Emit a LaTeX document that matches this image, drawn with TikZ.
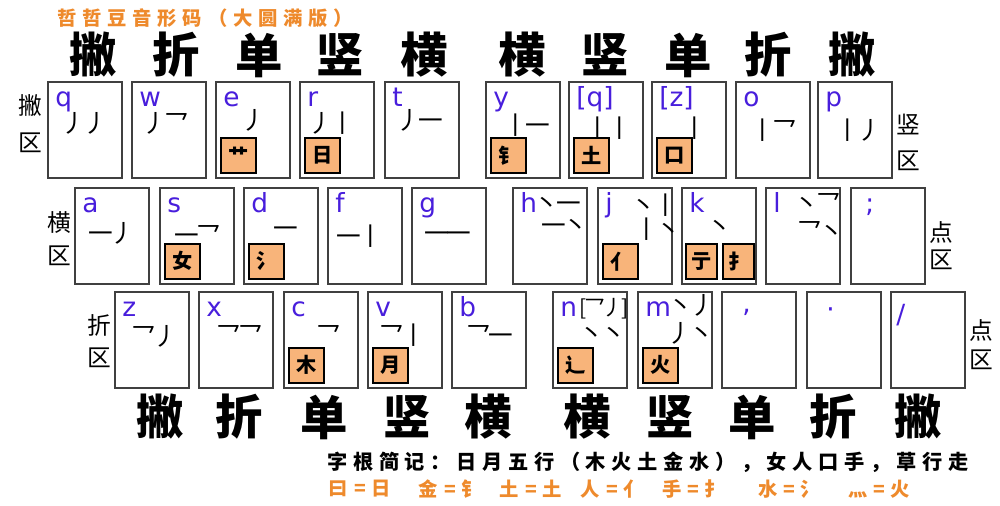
\documentclass[tikz,border=0pt]{standalone}
\usepackage{fontspec}
\setmainfont{DejaVu Sans}
\newfontfamily\cjk{Noto Sans CJK SC}
\usepackage{xcolor}
\usepackage{tikz}
\usetikzlibrary{positioning}
\usetikzlibrary{calc}

\definecolor{keyblue}{RGB}{72,30,220}
\definecolor{titleorange}{RGB}{238,138,44}
\definecolor{radfill}{RGB}{248,180,122}

\begin{document}
\begin{tikzpicture}[x=0.02cm, y=-0.02cm,
		key/.style={draw=black!75, line width=0.7pt, minimum width=1.48cm, minimum height=1.92cm, inner sep=0pt, outer sep=0pt, anchor=north west},
		letter/.style={text=keyblue, font=\fontsize{15}{15}\selectfont, anchor=base west, inner sep=0pt},
		stroke/.style={font=\cjk\fontsize{14}{14}\selectfont\addfontfeatures{LetterSpace=-12}, inner sep=0pt},
		rad/.style={draw, line width=1.4pt, fill=radfill, minimum size=0.7cm, inner sep=0pt, anchor=south west, font=\cjk\bfseries\fontsize{11.5}{11.5}\selectfont},
		big/.style={font=\cjk\bfseries\fontsize{27}{27}\selectfont, inner sep=0pt},
		zone/.style={font=\cjk\fontsize{13.5}{13.5}\selectfont, inner sep=0pt},
		note/.style={font=\cjk\bfseries\fontsize{11}{11}\selectfont\addfontfeatures{LetterSpace=30}, inner sep=0pt}]
		\useasboundingbox (0,0) rectangle (1000,505);

		% Title
		\node[note, text=titleorange, anchor=west] (title) at (57,18) {哲哲豆音形码（大圆满版）};

		% Three rows of keys
		\foreach \n/\x in {q/48, w/132, e/216, r/300, t/385, y/486, qq/569, zz/652, o/736, p/818}
			\node[key] (\n) at (\x,82) {};
		\foreach \n/\x in {a/75, s/160, d/244, f/328, g/412, h/513, j/598, k/682, l/766, semi/851}
			\node[key] (\n) at (\x,188) {};
		\foreach \n/\x in {z/115, x/199, c/284, v/368, b/452, n/553, m/638, comma/722, dot/807, slash/891}
			\node[key] (\n) at (\x,292) {};

		% Key letters
		\foreach \n/\l in {q/q, w/w, e/e, r/r, t/t, y/y, qq/{[q]}, zz/{[z]}, o/o, p/p, a/a, s/s, d/d, f/f, g/g, h/h, j/j, k/k, l/l, z/z, x/x, c/c, v/v, b/b, n/n, m/m}
			\node[letter] at ($(\n.north west)+(7,24)$) {\l};
		\node[letter] at ($(semi.north west)+(14,24)$) {;};
		\node[letter] at ($(comma.north west)+(20,20)$) {,};
		\node[letter] at ($(dot.north west)+(19,26)$) {·};
		\node[letter] at ($(slash.north west)+(5,31)$) {/};

		% Strokes
		\foreach \n/\dx/\dy/\s in {q/37/41/丿丿, w/34/41/丿乛, e/38/38/丿, r/32/41/丿丨, t/35/38/丿一,
				y/41/43/丨一, qq/40/46/丨丨, zz/43/46/丨, o/38/48/丨乛, p/41/48/丨丿,
				a/37/45/一丿, s/38/47/一乛, d/42/44/一, f/32/48/一丨, g/36/49/一一,
				h/45/17/丶一, h/52/39/一丶, j/57/17/丶丨, j/60/41/丨丶, k/38/40/丶, l/52/15/丶乛, l/55/43/乛丶,
				z/40/44/乛丿, x/41/43/乛乛, c/45/43/乛, v/35/43/乛丨, b/38/43/乛一,
				n/50/43/丶丶, m/54/13/丶丿, m/53/41/丿丶}
			\node[stroke] at ($(\n.north west)+(\dx,\dy)$) {\s};
		\node[stroke, font=\cjk\fontsize{12}{12}\selectfont\addfontfeatures{LetterSpace=-12}] at ($(n.north west)+(51,17)$) {[乛丿]};

		% Radical boxes
		\foreach \n/\r in {e/艹, r/日, y/钅, qq/土, zz/口, s/女, d/氵, j/亻, c/木, v/月, n/辶, m/火}
			\node[rad] at ($(\n.south west)+(4,-4)$) {\r};
		\node[rad, minimum width=0.62cm] at ($(k.south west)+(3,-4)$) {亍};
		\node[rad, minimum width=0.62cm] at ($(k.south west)+(40,-4)$) {扌};

		% Zone labels
		\foreach \c/\x/\y in {撇/30/105, 区/30/143, 竖/908/124, 区/908/161, 横/59/223, 区/59/256,
				点/941/232, 区/941/260, 折/99/325, 区/99/358, 点/981/330, 区/981/360}
			\node[zone] at (\x,\y) {\c};

		% Big headers
		\foreach \h/\x in {撇/93, 折/176, 单/259, 竖/340, 横/424, 横/522, 竖/605, 单/688, 折/768, 撇/852}
			\node[big] at (\x,55) {\h};
		\foreach \h/\x in {撇/160, 折/239, 单/324, 竖/407, 横/488, 横/587, 竖/670, 单/752, 折/833, 撇/918}
			\node[big] at (\x,417) {\h};

		% Memo lines
		\node[note, anchor=west, font=\cjk\bfseries\fontsize{11.5}{11.5}\selectfont\addfontfeatures{LetterSpace=28}] (memo) at (327,462) {字根简记：日月五行（木火土金水），女人口手，草行走};
		\foreach \t/\x in {曰=日/360, 金=钅/450, 土=土/531, 人=亻/612, 手=扌/693, 水=氵/789, 灬=火/879}
			\node[note, text=titleorange] at (\x,489) {\t};
	\end{tikzpicture}
\end{document}
